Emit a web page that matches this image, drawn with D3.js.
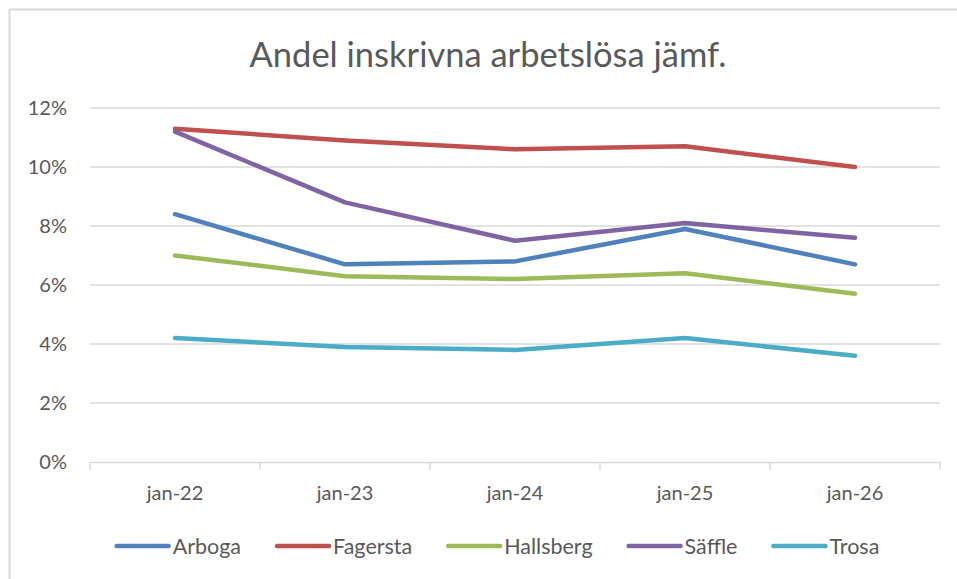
<!DOCTYPE html>
<html>
<head>
<meta charset="utf-8">
<script src="https://cdn.jsdelivr.net/npm/d3@7"></script>
<style>
  body { margin: 0; background: #fff; }
  svg text { font-family: Lato, "Open Sans", sans-serif; fill: #595959; }
</style>
</head>
<body>
<div id="chart"></div>
<script>
// data
var categories = ["jan-22", "jan-23", "jan-24", "jan-25", "jan-26"];
var seriesNames = ["Arboga", "Fagersta", "Hallsberg", "Säffle", "Trosa"];
var arboga    = [8.4, 6.7, 6.8, 7.9, 6.7];
var fagersta  = [11.3, 10.9, 10.6, 10.7, 10.0];
var hallsberg = [7.0, 6.3, 6.2, 6.4, 5.7];
var saffle    = [11.2, 8.8, 7.5, 8.1, 7.6];
var trosa     = [4.2, 3.9, 3.8, 4.2, 3.6];
var yTicks = [0, 2, 4, 6, 8, 10, 12];
var colors = ["#4F81BD", "#C0504D", "#9BBB59", "#8064A2", "#4BACC6"];

function init(){

    var w = 957, h = 579;
    var series = [arboga, fagersta, hallsberg, saffle, trosa];

    var svg = d3.select("#chart")
        .append("svg")
        .attr("width", w)
        .attr("height", h);

    // chart border
    svg.append("rect")
        .attr("x", 9.5).attr("y", 9.5)
        .attr("width", 1000).attr("height", 600)
        .attr("fill", "none")
        .attr("stroke", "#d9d9d9")
        .attr("stroke-width", 2);

    svg.append("text")
        .attr("x", 488).attr("y", 67)
        .attr("text-anchor", "middle")
        .style("font-size", "34.5px")
        .text("Andel inskrivna arbetslösa jämf.");

    var x = d3.scaleBand().domain(categories).range([90, 940]);
    var y = d3.scaleLinear().domain([0, 12]).range([462, 108]);

    // gridlines
    svg.append("g")
        .selectAll("line")
        .data(yTicks.filter(function(d){ return d > 0; }))
        .enter()
        .append("line")
        .attr("x1", 90).attr("x2", 940)
        .attr("y1", function(d){ return y(d); })
        .attr("y2", function(d){ return y(d); })
        .attr("stroke", "#d9d9d9")
        .attr("stroke-width", 1.5);

    // y labels
    svg.append("g")
        .selectAll("text")
        .data(yTicks)
        .enter()
        .append("text")
        .attr("x", 67)
        .attr("y", function(d){ return y(d); })
        .attr("dy", "0.35em")
        .attr("text-anchor", "end")
        .style("font-size", "20px")
        .text(function(d){ return d + "%"; });

    // x axis line
    var gx = svg.append("g").attr("transform", "translate(0,462)");
    gx.call(d3.axisBottom(x).tickSizeOuter(0).tickFormat(""));
    gx.select(".domain").attr("stroke", "#d9d9d9").attr("stroke-width", 1.5);
    // Excel puts ticks between categories
    gx.selectAll(".tick").remove();
    var edges = categories.map(function(c){ return x(c); }).concat([x.range()[1]]);
    gx.selectAll("line.sep")
        .data(edges)
        .enter()
        .append("line")
        .attr("class", "sep")
        .attr("x1", function(d){ return d; })
        .attr("x2", function(d){ return d; })
        .attr("y1", 0).attr("y2", 8)
        .attr("stroke", "#d9d9d9")
        .attr("stroke-width", 1.5);

    svg.append("g")
        .selectAll("text")
        .data(categories)
        .enter()
        .append("text")
        .attr("x", function(d){ return x(d) + x.bandwidth() / 2; })
        .attr("y", 500)
        .attr("text-anchor", "middle")
        .style("font-size", "20px")
        .text(function(d){ return d; });

    var line = d3.line()
        .x(function(d, i){ return x(categories[i]) + x.bandwidth() / 2; })
        .y(function(d){ return y(d); });

    svg.append("g")
        .selectAll("path")
        .data(series)
        .enter()
        .append("path")
        .attr("d", line)
        .attr("fill", "none")
        .attr("stroke", function(d, i){ return colors[i]; })
        .attr("stroke-width", 4.5)
        .attr("stroke-linecap", "round")
        .attr("stroke-linejoin", "round");

    // legend
    var leg = svg.append("g");
    var xpos = 0, gap = 34;
    seriesNames.forEach(function(name, i){
        var item = leg.append("g").attr("transform", "translate(" + xpos + ",0)");
        item.append("line")
            .attr("x1", 2).attr("x2", 54)
            .attr("y1", 0).attr("y2", 0)
            .attr("stroke", colors[i])
            .attr("stroke-width", 4.5)
            .attr("stroke-linecap", "round");
        var t = item.append("text")
            .attr("x", 58).attr("y", 0)
            .attr("dy", "0.35em")
            .style("font-size", "21.5px")
            .text(name);
        xpos += 58 + t.node().getComputedTextLength() + gap;
    });
    var legW = xpos - gap;
    leg.attr("transform", "translate(" + (497 - legW / 2) + ",546)");
}
window.onload = init;
</script>
</body>
</html>
